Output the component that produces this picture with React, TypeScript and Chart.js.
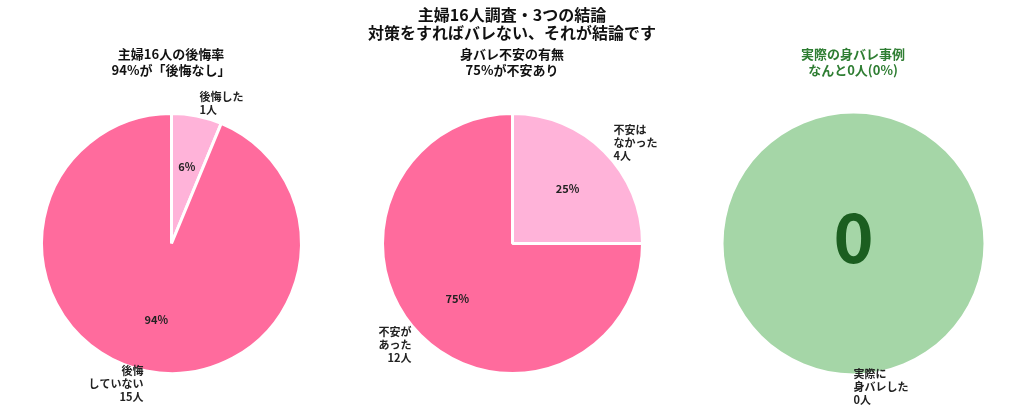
import React, { useEffect, useRef } from 'react';
import Chart from 'chart.js/auto';

// 主婦16人調査のデータ
const mainTitle = ['主婦16人調査・3つの結論', '対策をすればバレない、それが結論です'];

const regretTitle = ['主婦16人の後悔率', '94%が「後悔なし」'];
const regretLabels = ['後悔した\n1人', '後悔\nしていない\n15人'];
const regretValues = [1, 15];

const anxietyTitle = ['身バレ不安の有無', '75%が不安あり'];
const anxietyLabels = ['不安は\nなかった\n4人', '不安が\nあった\n12人'];
const anxietyValues = [4, 12];

const exposureTitle = ['実際の身バレ事例', 'なんと0人(0%)'];
const exposureLabels = ['実際に\n身バレした\n0人'];
const exposureDisk = [1]; // 円全体を塗るためのダミー値
const exposureCount = 0;

const FONT = "'Noto Sans CJK JP', 'Noto Sans', sans-serif";
const PINK = '#FF6B9D';
const LIGHT_PINK = '#FFB3D9';
const GREEN = '#A5D6A7';
const DARK_GREEN = '#1B5E20';

type PieProps = {
  title: string[];
  titleColor: string;
  labels: string[];
  values: number[];
  colors: string[];
  borderWidth: number;
  showPct: boolean;
  centerText?: string;
};

// 外側のラベルと内側のパーセント表示 (matplotlib風)
const pieTextPlugin = {
  id: 'pieText',
  afterDraw(chart: any, _args: any, opts: any) {
    const ctx = chart.ctx;
    const meta = chart.getDatasetMeta(0);
    const values: number[] = chart.data.datasets[0].data;
    const total = values.reduce((a, b) => a + b, 0);
    ctx.save();
    ctx.fillStyle = '#222';
    meta.data.forEach((arc: any, i: number) => {
      const { x, y, startAngle, endAngle, outerRadius } = arc.getProps(
        ['x', 'y', 'startAngle', 'endAngle', 'outerRadius'],
        true
      );
      const mid = (startAngle + endAngle) / 2;
      const cos = Math.cos(mid);
      const sin = Math.sin(mid);

      // ラベル (半径の1.1倍)
      const lines = String(chart.data.labels[i]).split('\n');
      const lh = 13;
      const lx = x + outerRadius * 1.1 * cos;
      const ly = y + outerRadius * 1.1 * sin;
      ctx.font = `bold 11px ${FONT}`;
      ctx.textAlign = cos < 0 ? 'right' : 'left';
      ctx.textBaseline = 'middle';
      lines.forEach((line, j) => {
        ctx.fillText(line, lx, ly + (j - (lines.length - 1) / 2) * lh);
      });

      // パーセント (半径の0.6倍)
      if (opts.showPct) {
        const pct = Math.round((values[i] / total) * 100);
        ctx.textAlign = 'center';
        ctx.fillText(`${pct}%`, x + outerRadius * 0.6 * cos, y + outerRadius * 0.6 * sin);
      }
    });

    if (opts.centerText !== undefined && meta.data.length) {
      const { x, y } = meta.data[0].getProps(['x', 'y'], true);
      ctx.fillStyle = DARK_GREEN;
      ctx.font = `bold 68px ${FONT}`;
      ctx.textAlign = 'center';
      ctx.textBaseline = 'alphabetic';
      ctx.fillText(opts.centerText, x, y + 19.5);
    }
    ctx.restore();
  },
};

const PieChart: React.FC<PieProps> = ({ title, titleColor, labels, values, colors, borderWidth, showPct, centerText }) => {
  const chartRef = useRef<HTMLCanvasElement>(null);
  const chartInstance = useRef<Chart | null>(null);

  useEffect(() => {
    if (!chartRef.current) return;
    if (chartInstance.current) chartInstance.current.destroy();
    const ctx = chartRef.current.getContext('2d');
    if (!ctx) return;

    // 円の半径130px、中心y=243.5になるように余白を調整
    const size = 260 + borderWidth;
    const top = 243.5 - size / 2;
    const side = (341 - size) / 2;

    chartInstance.current = new Chart(ctx, {
      type: 'pie',
      data: {
        labels,
        datasets: [
          {
            data: values,
            backgroundColor: colors,
            borderColor: '#ffffff',
            borderWidth,
            hoverOffset: 0,
            offset: 0,
          },
        ],
      },
      options: {
        responsive: true,
        maintainAspectRatio: false,
        animation: false,
        events: [],
        layout: {
          padding: { top, bottom: 417 - top - size, left: side, right: side },
        },
        plugins: {
          legend: { display: false },
          tooltip: { enabled: false },
          pieText: { showPct, centerText },
        } as any,
      },
      plugins: [pieTextPlugin],
    });

    return () => {
      if (chartInstance.current) {
        chartInstance.current.destroy();
        chartInstance.current = null;
      }
    };
  }, [labels, values, colors, borderWidth, showPct, centerText]);

  return (
    <div style={{ position: 'relative', width: 341, height: 417 }}>
      <div
        style={{
          position: 'absolute',
          top: 46,
          left: 0,
          width: 341,
          textAlign: 'center',
          fontFamily: FONT,
          fontWeight: 'bold',
          fontSize: 13,
          lineHeight: '16px',
          color: titleColor,
        }}
      >
        {title.map((t) => (
          <div key={t}>{t}</div>
        ))}
      </div>
      <canvas ref={chartRef} />
    </div>
  );
};

const App: React.FC = () => {
  return (
    <div style={{ position: 'absolute', left: 0, top: 0, width: 1024, height: 417, background: '#fff' }}>
      <div
        style={{
          position: 'absolute',
          top: 5,
          left: 0,
          width: 1024,
          textAlign: 'center',
          fontFamily: FONT,
          fontWeight: 'bold',
          fontSize: 16,
          lineHeight: '18px',
          color: '#111',
          zIndex: 1,
        }}
      >
        {mainTitle.map((t) => (
          <div key={t}>{t}</div>
        ))}
      </div>
      <div style={{ display: 'flex', position: 'absolute', left: 0.5, top: 0 }}>
        <PieChart
          title={regretTitle}
          titleColor="#111"
          labels={regretLabels}
          values={regretValues}
          colors={[LIGHT_PINK, PINK]}
          borderWidth={3}
          showPct
        />
        <PieChart
          title={anxietyTitle}
          titleColor="#111"
          labels={anxietyLabels}
          values={anxietyValues}
          colors={[LIGHT_PINK, PINK]}
          borderWidth={3}
          showPct
        />
        <PieChart
          title={exposureTitle}
          titleColor="#2E7D32"
          labels={exposureLabels}
          values={exposureDisk}
          colors={[GREEN]}
          borderWidth={0}
          showPct={false}
          centerText={String(exposureCount)}
        />
      </div>
    </div>
  );
};

export default App;
